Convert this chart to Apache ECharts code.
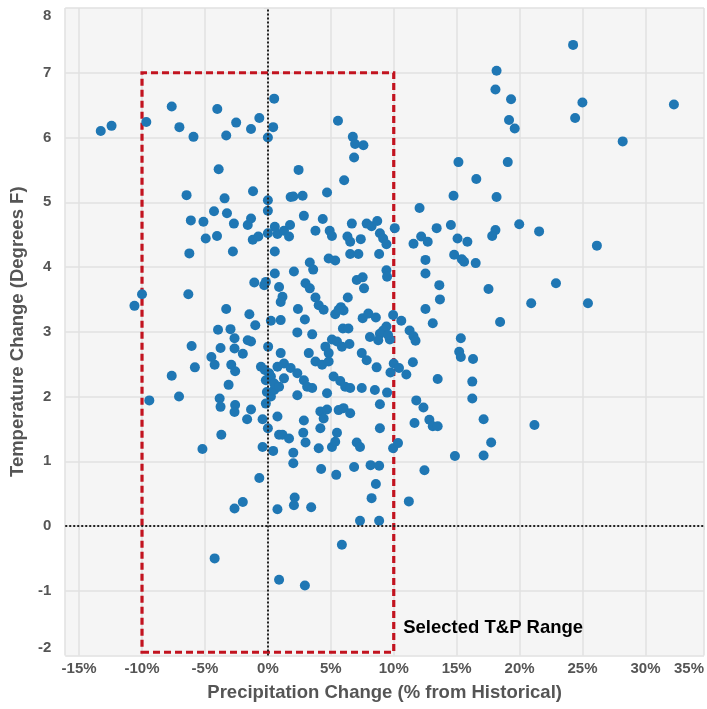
<!DOCTYPE html>
<html>
<head>
<meta charset="utf-8">
<script src="https://cdn.jsdelivr.net/npm/echarts@6/dist/echarts.min.js"></script>
<style>
  html, body { margin: 0; padding: 0; background: #ffffff; }
  #chart { width: 707px; height: 709px; }
</style>
</head>
<body>
<div id="chart"></div>
<script>
// ---- Data ----
const precipitation = [
  -13.28,-12.42,-9.66,-7.64,-7.03,-5.91,-4.02,-2.52,-3.31,-1.34,-0.68,0.5,0.42,0.0,-3.91,-6.46,-3.44,-1.18,0,0,
  -4.28,-3.25,-6.12,-5.12,-2.70,-1.60,-1.34,-4.94,-4.04,-1.20,-0.76,0,0.76,-6.24,-2.78,-1.08,-0.29,-0.16,-6.32,-10.0,
  -10.6,-3.31,-1.47,-1.0,-3.96,-2.97,-2.65,-1.60,-1.34,0.02,-6.06,-3.76,-2.65,-1.99,-4.49,-4.23,-2.91,-2.60,-5.80,-0.55,
  -0.24,0.1,-7.64,-3.12,-0.16,-0.08,0.24,0.5,-7.06,-9.42,-3.83,-3.76,-2.60,-2.65,-1.34,-0.16,-1.65,-0.42,0,
  -3.70,-5.2,-0.42,0.42,-0.68,-2.65,-1.99,0.76,-4.23,0.89,0.89,
  5.57,6.75,6.93,7.59,6.85,2.44,6.06,1.81,2.02,2.76,4.70,12.05,15.14,16.56,14.75,
  24.25,18.17,18.08,19.32,24.99,32.26,19.16,19.61,24.41,28.19,19.06,18.17,
  19.97,18.08,17.82,21.55,26.14,17.53,22.89,20.92,25.43,18.45,17.14,21.18,17.74,17.14,
  2.86,4.36,0.55,1.28,1.76,1.68,3.78,4.91,5.09,6.67,7.85,8.24,8.69,8.90,9.16,9.42,10.08,6.32,6.54,7.38,
  0.55,6.54,7.19,8.84,4.83,5.35,3.33,3.60,2.07,0.55,9.42,9.47,7.06,7.53,7.64,2.99,3.33,0.89,1.16,1.02,
  3.78,4.04,4.43,6.35,5.80,6.01,5.35,5.62,2.39,0.24,1.02,2.94,7.53,7.98,8.58,9.95,10.6,9.42,9.16,5.96,
  6.40,2.34,3.52,8.11,8.90,8.77,9.69,9.55,11.26,11.57,11.73,5.09,5.49,5.88,6.48,4.57,4.83,15.33,15.20,15.33,
  16.30,7.46,7.85,1.02,1.28,0.76,3.25,3.78,4.31,4.83,1.81,2.34,8.64,10.0,10.42,9.74,11.52,11.0,13.49,0.24,
  0.5,0.89,1.28,2.86,3.12,3.52,5.22,5.75,6.14,6.54,7.46,8.50,9.47,2.34,4.70,16.24,16.24,11.79,12.36,8.90,
  4.17,4.70,4.43,5.62,6.01,6.54,2.86,0.76,8.90,11.65,12.83,13.1,11.57,12.18,12.70,13.41,14.54,15.07,15.85,12.52,
  12.52,14.80,15.41,15.59,16.51,13.62,13.67,12.52,13.10,
  4.17,1.16,1.68,2.81,2.99,2.02,4.04,5.09,5.35,5.49,7.06,7.32,9.95,10.34,13.49,14.86,2.02,4.23,5.43,6.85,
  8.16,8.84,12.44,8.58,8.24,2.13,2.07,3.44,11.2,7.32,8.84,5.88,2.94
];
const temperature = [
  6.10,6.18,6.24,6.48,6.16,6.01,6.44,6.23,6.03,6.13,6.30,6.6,6.16,6.0,5.51,5.11,5.06,5.17,5.03,4.87,
  4.86,4.83,4.72,4.70,4.67,4.65,4.75,4.44,4.48,4.42,4.47,4.52,4.51,4.21,4.24,3.76,3.72,3.77,3.58,3.58,
  3.40,3.35,3.27,3.10,3.03,3.04,2.90,2.87,2.85,2.77,2.78,2.75,2.74,2.66,2.61,2.49,2.49,2.39,2.45,2.46,
  2.41,2.36,2.32,2.18,2.25,2.07,2.0,2.10,2.0,1.94,1.97,1.84,1.87,1.76,1.80,1.89,1.65,1.65,1.51,
  1.41,1.19,1.22,1.16,0.74,0.27,0.37,0.26,-0.50,-0.83,1.41,
  6.26,6.01,5.90,5.88,5.69,5.50,5.34,5.08,5.09,5.10,5.15,4.91,5.62,5.36,5.10,
  7.43,7.03,6.74,6.59,6.54,6.51,6.27,6.14,6.30,5.94,5.62,5.08,
  4.66,4.57,4.48,4.55,4.33,3.66,3.75,3.44,3.44,3.15,1.65,1.56,1.29,1.09,
  4.79,4.74,4.62,4.56,4.65,4.47,4.56,4.56,4.48,4.67,4.67,4.63,4.71,4.52,4.44,4.35,4.60,4.47,4.39,4.43,
  4.24,4.20,4.20,4.20,4.13,4.10,4.07,3.96,3.93,3.90,3.95,3.85,3.80,3.84,3.67,3.75,3.67,3.69,3.54,3.46,
  3.53,3.41,3.34,3.53,3.38,3.33,3.27,3.34,3.35,3.17,3.18,3.19,3.21,3.28,3.22,3.26,3.17,3.08,3.02,3.05,
  3.05,2.99,2.96,2.92,2.97,2.87,2.88,2.95,3.02,2.93,2.86,2.88,2.85,2.77,2.81,2.77,2.67,2.90,2.69,2.61,
  2.58,2.67,2.56,2.67,2.51,2.46,2.67,2.54,2.49,2.54,2.44,2.36,2.45,2.51,2.44,2.37,2.53,2.34,2.27,2.31,
  2.20,2.15,2.28,2.25,2.15,2.13,2.31,2.24,2.15,2.13,2.13,2.10,2.06,2.02,2.05,2.23,1.97,1.94,1.83,1.88,
  1.77,1.80,1.66,1.79,1.82,1.74,1.63,1.69,1.51,1.59,1.64,1.54,4.36,4.47,4.39,4.60,4.65,4.44,4.39,4.11,
  3.90,4.19,4.12,4.08,4.06,3.72,3.50,3.35,3.13,
  1.51,1.41,1.35,1.44,1.29,1.13,1.20,1.22,1.30,1.44,1.29,1.22,1.20,1.28,1.54,1.08,0.97,0.88,0.79,0.91,
  0.94,0.93,0.86,0.65,0.43,0.44,0.32,0.29,0.38,0.08,0.08,-0.29,-0.92
];
const rangeX = [-10, 10];          // selected precipitation range (%)
const rangeY = [-1.95, 7];         // selected temperature range (deg F)
const rangeLabel = 'Selected T&P Range';
const rangeLabelAt = [10, -1.58];
const xTitle = 'Precipitation Change (% from Historical)';
const yTitle = 'Temperature Change (Degrees F)';

const points = precipitation.map((p, i) => [p, temperature[i]]);

const FONT = "'Liberation Sans', Arial, sans-serif";
const chart = echarts.init(document.getElementById('chart'), null, { renderer: 'canvas' });

chart.setOption({
  animation: false,
  backgroundColor: '#ffffff',
  grid: {
    left: 63, right: 0, top: 8, bottom: 53.5,
    show: true, backgroundColor: '#f5f5f5', borderWidth: 0
  },
  xAxis: {
    type: 'value',
    min: -16.1, max: 34.65,
    splitNumber: 10,
    axisLine: { show: false },
    axisTick: { show: true, length: 4, lineStyle: { color: '#dddddd' } },
    splitLine: { show: true, lineStyle: { color: '#e0e0e0', width: 1.5 } },
    axisLabel: {
      color: '#555555', fontFamily: FONT, fontWeight: 'bold', fontSize: 15, margin: 6,
      showMinLabel: false, showMaxLabel: true, alignMaxLabel: 'right',
      formatter: v => (Math.round(v / 5) * 5) + '%'
    },
    name: xTitle, nameLocation: 'middle', nameGap: 28,
    nameTextStyle: { color: '#555555', fontFamily: FONT, fontWeight: 'bold', fontSize: 18.5 }
  },
  yAxis: {
    type: 'value',
    min: -2, max: 8, interval: 1,
    axisLine: { show: false },
    axisTick: { show: true, length: 4, lineStyle: { color: '#dddddd' } },
    splitLine: { show: true, lineStyle: { color: '#e0e0e0', width: 1.5 } },
    axisLabel: {
      color: '#555555', fontFamily: FONT, fontWeight: 'bold', fontSize: 15, margin: 14,
      verticalAlignMaxLabel: 'top', verticalAlignMinLabel: 'bottom'
    },
    name: yTitle, nameLocation: 'middle', nameGap: 32, nameRotate: 90,
    nameTextStyle: { color: '#555555', fontFamily: FONT, fontWeight: 'bold', fontSize: 18.5 }
  },
  series: [
    {
      type: 'scatter',
      z: 1,
      data: [],
      markLine: {
        silent: true,
        symbol: 'none',
        label: { show: false },
        lineStyle: { color: '#222222', type: [2, 2], width: 2 },
        data: [{ xAxis: 0 }, { yAxis: 0 }]
      },
      markArea: {
        silent: true,
        itemStyle: {
          color: 'rgba(0,0,0,0)', borderColor: '#c2131f', borderWidth: 3.2, borderType: [7, 4]
        },
        data: [[{ coord: [rangeX[0], rangeY[0]] }, { coord: [rangeX[1], rangeY[1]] }]]
      }
    },
    {
      type: 'scatter',
      z: 3,
      symbolSize: 10,
      itemStyle: { color: '#1f77b4', opacity: 1 },
      data: points
    },
    {
      type: 'scatter',
      z: 4,
      symbolSize: 1,
      silent: true,
      itemStyle: { color: 'rgba(0,0,0,0)' },
      data: [rangeLabelAt],
      label: {
        show: true, position: 'right', distance: 9,
        formatter: rangeLabel,
        color: '#000000', opacity: 1, fontFamily: FONT, fontWeight: 'bold', fontSize: 18.5
      },
      emphasis: { disabled: true }
    }
  ]
});
</script>
</body>
</html>
